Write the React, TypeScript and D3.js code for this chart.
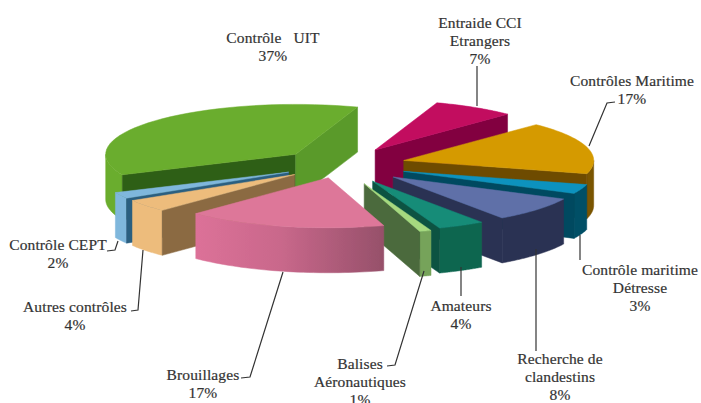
import React from "react";
import * as d3 from "d3";

// ---- data (clockwise from the Entraide slice)
const categories = ["Entraide CCI Etrangers", "Contrôles Maritime", "Contrôle maritime Détresse", "Recherche de clandestins", "Amateurs", "Balises Aéronautiques", "Brouillages", "Autres contrôles", "Contrôle CEPT", "Contrôle UIT"];
const values = [7, 17, 3, 8, 4, 1, 17, 4, 2, 37];

// ---- how far each slice is pulled out of the pie
const explode = [67, 66, 68, 70, 70, 75, 50, 58, 58, 60];

// ---- colours
const topColors = ["#C2085F", "#D59A06", "#0D92BE", "#5F6FA8", "#128C78", "#A6D97F", "#DD7799", "#EDBC7C", "#7FB7DC", "#6AAD2D"];
const wallColors = ["#820040", "#7A5500", "#024F66", "#2C3353", "#0C6650", "#76A35A", "url(#wallPink)", "#EDBC7C", "#7FB7DC", "#6AAD2D"];
const startFaceColors = ["#820040", "#6E4C00", "#024A60", "#2C3353", "#0A5343", "#4C6B3D", "#985067", "#8B6A43", "#2C5F80", "#2F5E16"];
const endFaceColors = ["#820040", "#6E4C00", "#024A60", "#2C3353", "#0A5343", "#4C6B3D", "#985067", "#8B6A43", "#2C5F80", "#5A9A2C"];

// ---- paint order: back to front
const paintOrder = [9, 8, 7, 0, 1, 2, 3, 4, 5, 6];

// ---- labels
const labelLines = [
  ["Entraide CCI", "Etrangers", "7%"],
  ["Contrôles Maritime", "17%"],
  ["Contrôle maritime", "Détresse", "3%"],
  ["Recherche de", "clandestins", "8%"],
  ["Amateurs", "4%"],
  ["Balises", "Aéronautiques", "1%"],
  ["Brouillages", "17%"],
  ["Autres contrôles", "4%"],
  ["Contrôle CEPT", "2%"],
  ["Contrôle   UIT", "37%"],
];
const labelCenterX = [480, 632, 640, 560, 461, 360, 203, 75, 58, 273];
const labelFirstBaseline = [28, 86, 275, 364, 311, 369, 380, 312, 250, 43];
const lineHeight = 18;
const leaders: [number, number][][] = [
  [[477, 66], [477, 106]],
  [[615, 102], [607, 103], [589, 146]],
  [[580, 235], [580, 260]],
  [[536, 249], [536, 351]],
  [[461, 267], [461, 296]],
  [[424, 271], [395, 365], [387, 366]],
  [[283, 272], [250, 377], [241, 378]],
  [[143, 250], [138, 310], [131, 311]],
  [[118, 241], [115, 250], [107, 251]],
];

const cx = 340, cy = 165, R = 190, tilt = 0.263, depth = 45;
const START = (19 * Math.PI) / 180;
const TAU = 2 * Math.PI;

const pie = d3.pie<number>().sort(null).startAngle(START).endAngle(START + TAU);
const arcs = pie(values);
const line = d3.line<[number, number]>();
const sweep = (a: number, b: number) => d3.range(0, 41).map((s) => a + ((b - a) * s) / 40);

function Slice({ i }: { i: number }) {
  const { startAngle: a0, endAngle: a1 } = arcs[i];
  const mid = (a0 + a1) / 2;
  const ox = cx + explode[i] * Math.sin(mid);
  const oy = cy - explode[i] * Math.cos(mid) * tilt;
  const pt = (a: number, dz = 0): [number, number] => [ox + R * Math.sin(a), oy - R * Math.cos(a) * tilt + dz];
  const apex: [number, number] = [ox, oy];
  const apexLow: [number, number] = [ox, oy + depth];
  const top = line([apex, ...sweep(a0, a1).map((a) => pt(a))]) + "Z";
  // only the part of the rim that faces the viewer (90 deg to 270 deg)
  const w0 = Math.max(a0, Math.PI / 2);
  const w1 = Math.min(a1, (3 * Math.PI) / 2);
  const wall = w1 > w0
    ? line([...sweep(w0, w1).map((a) => pt(a)), ...sweep(w1, w0).map((a) => pt(a, depth))]) + "Z"
    : null;
  const face = (a: number) => line([apex, pt(a), pt(a, depth), apexLow]) + "Z";
  return (
    <g>
      {wall && <path d={wall} fill={wallColors[i]} stroke={wallColors[i]} strokeWidth={0.5} />}
      {Math.sin(a0) < 0 && <path d={face(a0)} fill={startFaceColors[i]} stroke={startFaceColors[i]} strokeWidth={0.5} />}
      {Math.sin(a1) > 0 && <path d={face(a1)} fill={endFaceColors[i]} stroke={endFaceColors[i]} strokeWidth={0.5} />}
      <path d={top} fill={topColors[i]} stroke={topColors[i]} strokeWidth={0.5} />
    </g>
  );
}

export default function App() {
  return (
    <svg width={701} height={403} style={{ position: "absolute", left: 0, top: 0, background: "#fff" }} aria-label={categories.join(", ")}>
      <defs>
        <linearGradient id="wallPink" x1="0" x2="1" y1="0" y2="0">
          <stop offset="0" stopColor="#DC7198" />
          <stop offset="0.45" stopColor="#C9688B" />
          <stop offset="1" stopColor="#96506A" />
        </linearGradient>
        <filter id="soft" x="-5%" y="-5%" width="110%" height="110%">
          <feGaussianBlur stdDeviation="0.5" />
        </filter>
      </defs>
      <g filter="url(#soft)">
        {paintOrder.map((i) => <Slice key={i} i={i} />)}
      </g>
      <g fill="none" stroke="#333" strokeWidth={1.2}>
        {leaders.map((l, i) => <path key={i} d={line(l) ?? ""} />)}
      </g>
      <g fontFamily="'Liberation Serif', serif" fontSize={15.5} letterSpacing={0.12} stroke="#333" strokeWidth={0.2} fill="#333" textAnchor="middle">
        {labelLines.map((lines, i) =>
          lines.map((t, j) => (
            <text key={j} x={labelCenterX[i]} y={labelFirstBaseline[i] + j * lineHeight} xmlSpace="preserve">{t}</text>
          ))
        )}
      </g>
    </svg>
  );
}
